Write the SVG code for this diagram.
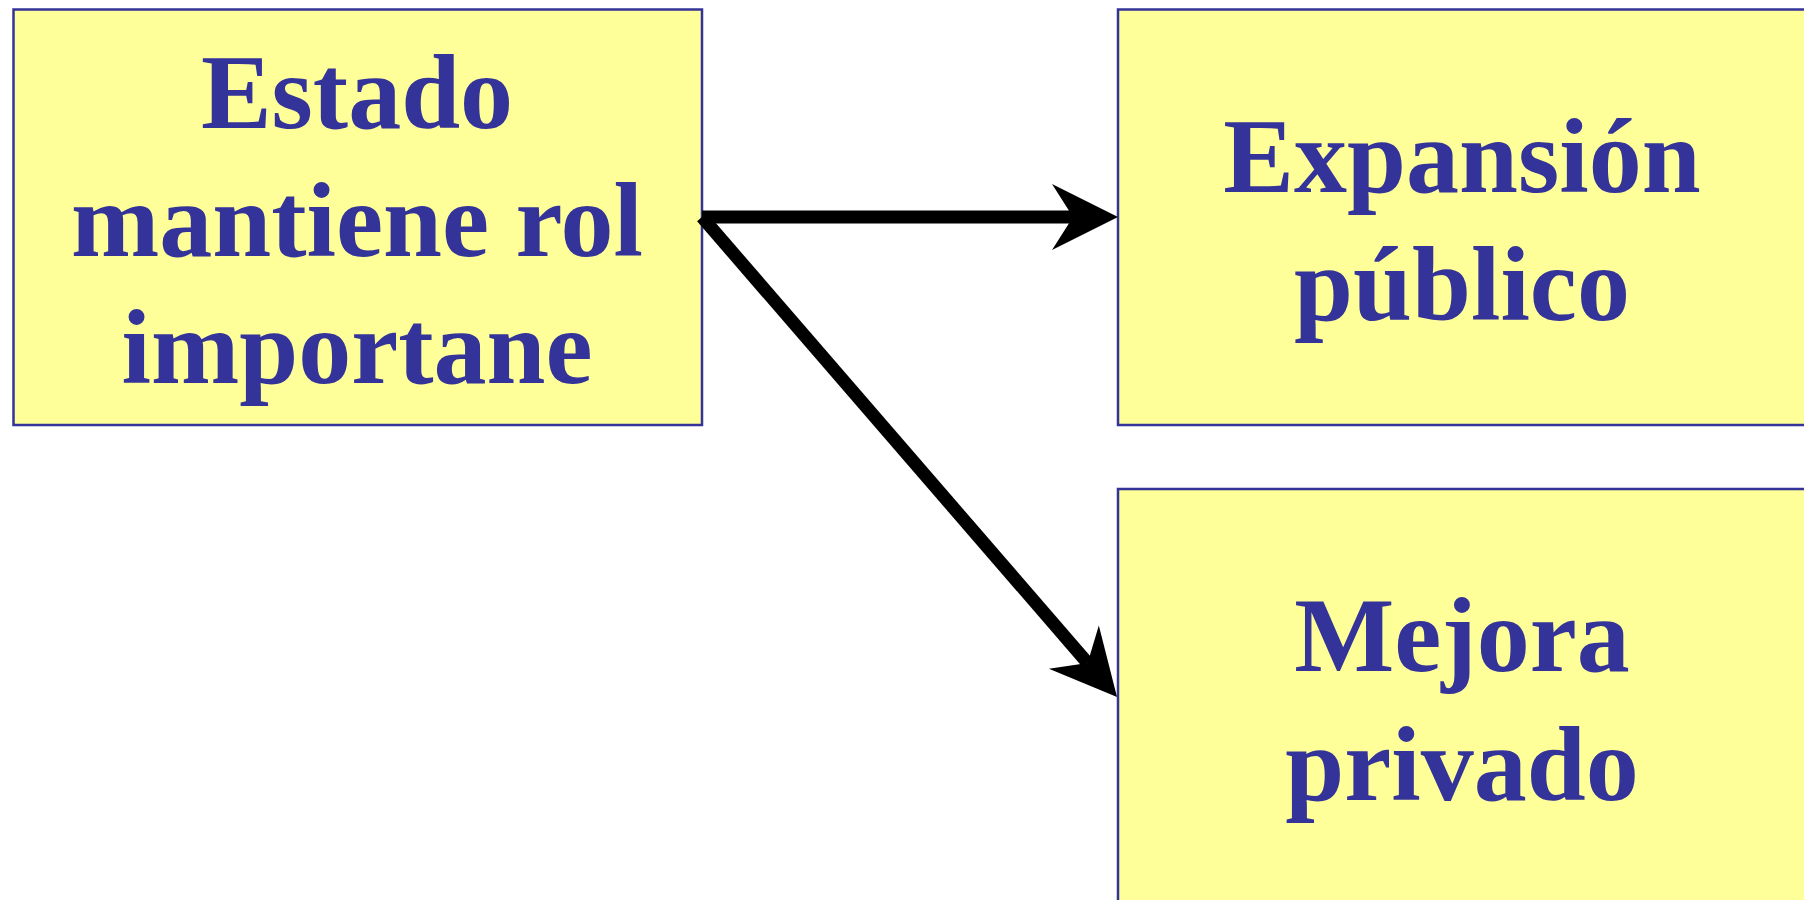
<svg xmlns="http://www.w3.org/2000/svg" width="1804" height="900" viewBox="0 0 1804 900">
<style>
.box{fill:#FFFF99;stroke:#333399;stroke-width:2.5}
.lbl{font-family:"Liberation Serif","Times New Roman",serif;font-weight:bold;font-size:106px;fill:#333399;text-anchor:middle}
.conn{stroke:#000;stroke-width:13;fill:none}
</style>
<defs>
<marker id="stealth" markerUnits="userSpaceOnUse" viewBox="-70 -35 75 70" markerWidth="75" markerHeight="70" refX="-45" refY="0" orient="auto" overflow="visible">
<path d="M0,0 L-66,-33 L-45,0 L-66,33 Z" fill="#000"/>
</marker>
</defs>
<rect width="1804" height="900" fill="#fff"/>
<g id="node-estado">
<rect class="box" x="13.5" y="9.5" width="688.5" height="415.5"/>
<text class="lbl" x="357" y="128">Estado</text>
<text class="lbl" x="357" y="256">mantiene rol</text>
<text class="lbl" x="357" y="383">importane</text>
</g>
<g id="node-expansion">
<rect class="box" x="1118" y="9.5" width="700" height="415.5"/>
<text class="lbl" x="1462" y="192">Expansión</text>
<text class="lbl" x="1462" y="320">público</text>
</g>
<g id="node-mejora">
<rect class="box" x="1118" y="489" width="700" height="430"/>
<text class="lbl" x="1462" y="671">Mejora</text>
<text class="lbl" x="1462" y="800">privado</text>
</g>
<g id="connectors">
<path class="conn" d="M702,217 L1073,217" marker-end="url(#stealth)"/>
<path class="conn" d="M702,217 L1087.6,663" marker-end="url(#stealth)"/>
</g>
</svg>
